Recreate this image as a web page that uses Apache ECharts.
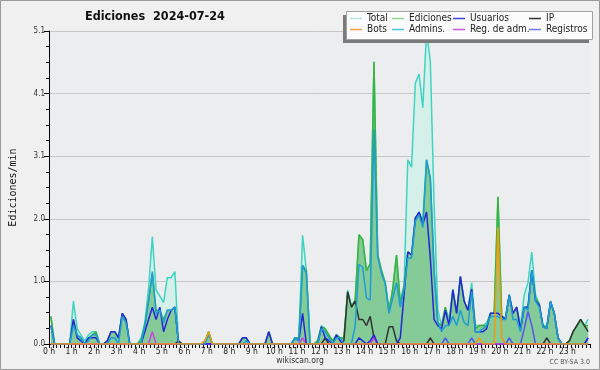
<!DOCTYPE html>
<html><head><meta charset="utf-8">
<script src="https://cdn.jsdelivr.net/npm/echarts@6/dist/echarts.min.js"></script>
<style>html,body{margin:0;padding:0;background:#f0f0f0}#c{width:600px;height:370px}</style>
</head><body><div id="c"></div>
<script>
// 10-minute bins, 144 per day (values in edits/min)
var total = [
0.45,0,0,0,0,0, 0.7,0.25,0.15,0.05,0.15,0.2,
0.2,0,0,0.05,0.2,0.2, 0.1,0.5,0.4,0,0,0,
0.1,0.35,0.9,1.75,0.88,0.78, 0.68,1.08,1.08,1.18,0,0,
0,0,0,0,0,0.05, 0.2,0,0,0,0,0,
0,0,0,0.1,0.1,0, 0,0,0,0,0.2,0,
0,0,0,0,0,0.1, 0.1,1.77,1.2,0,0,0.05,
0.3,0.25,0.15,0.05,0.15,0.1, 0.1,0.88,0.62,0.72,1.78,1.7,
1.2,1.3,4.6,1.45,1.2,1.0, 0.55,0.9,1.45,0.7,0.95,3.0,
2.88,4.25,4.4,3.85,5.1,4.6, 2.3,0.55,0.3,0.6,0.4,0.9,
0.5,1.1,0.7,0.55,1.0,0.3, 0.3,0.3,0.35,0.5,0.5,2.4,
0.45,0.42,0.8,0.5,0.6,0.3, 0.8,1.0,1.5,0.8,0.65,0.3,
0.3,0.7,0.5,0.1,0,0, 0.05,0.2,0.3,0.4,0.3,0.4
];
var ediciones = [
0.45,0,0,0,0,0, 0.4,0.15,0.1,0,0.1,0.15,
0.2,0,0,0.05,0.2,0.2, 0.1,0.5,0.4,0,0,0,
0.05,0.3,0.7,1.15,0.55,0.55, 0.4,0.55,0.55,0.6,0,0,
0,0,0,0,0,0.05, 0.2,0,0,0,0,0,
0,0,0,0.1,0.1,0, 0,0,0,0,0.2,0,
0,0,0,0,0,0.1, 0.1,1.28,1.2,0,0,0.05,
0.28,0.25,0.15,0.05,0.15,0.1, 0.1,0.85,0.6,0.72,1.78,1.7,
1.2,1.3,4.6,1.45,1.2,1.0, 0.55,0.9,1.45,0.65,0.95,1.5,
1.45,2.05,2.15,2.0,3.0,2.7, 1.2,0.35,0.3,0.6,0.3,0.88,
0.5,1.1,0.7,0.55,0.9,0.25, 0.3,0.3,0.3,0.5,0.5,2.4,
0.45,0.42,0.8,0.5,0.6,0.25, 0.6,0.6,1.2,0.75,0.64,0.28,
0.28,0.69,0.5,0.1,0,0, 0.05,0.2,0.3,0.4,0.3,0.3
];
var usuarios = [
0.3,0,0,0,0,0, 0.4,0.1,0.05,0,0.1,0.1,
0.1,0,0,0.05,0.2,0.2, 0.1,0.5,0.4,0,0,0,
0,0.2,0.4,0.6,0.4,0.6, 0.2,0.4,0.55,0.6,0,0,
0,0,0,0,0,0, 0,0,0,0,0,0,
0,0,0,0.1,0.1,0, 0,0,0,0,0.2,0,
0,0,0,0,0,0.1, 0.05,0.5,0,0,0,0,
0.28,0.1,0.05,0,0.15,0.05, 0,0,0,0,0.1,0.05,
0,0.05,0.15,0,0,0, 0,0,0,0.1,0.8,1.5,
1.45,2.05,2.15,1.95,2.15,1.4, 0.4,0.3,0.25,0.55,0.3,0.88,
0.5,1.1,0.7,0.55,0.89,0.2, 0.2,0.2,0.25,0.5,0.5,0.5,
0.45,0.4,0.8,0.5,0.6,0.23, 0.6,0.6,1.2,0.7,0.64,0.28,
0.25,0.69,0.5,0.1,0,0, 0,0,0,0,0,0.1
];
var ip = [
0,0,0,0,0,0, 0,0,0,0,0,0,
0,0,0,0,0,0, 0,0,0,0,0,0,
0,0,0,0,0,0, 0,0,0,0,0.05,0,
0,0,0,0,0,0, 0,0,0,0,0,0,
0,0,0,0,0,0, 0,0,0,0,0,0,
0,0,0,0,0,0, 0,0,0,0,0,0,
0,0.1,0,0,0,0, 0.05,0.85,0.6,0.7,0.4,0.4,
0.3,0.45,0.1,0,0,0, 0.28,0.28,0.05,0,0,0,
0,0,0,0,0,0.1, 0,0,0,0,0,0,
0,0,0,0,0,0, 0,0,0,0,0,0,
0,0,0,0,0,0, 0,0,0,0,0,0,
0.1,0,0,0,0,0, 0.05,0.2,0.3,0.4,0.3,0.2
];
var bots = [
0,0,0,0,0,0, 0,0,0,0,0,0,
0,0,0,0,0,0, 0,0,0,0,0,0,
0,0,0,0,0,0, 0,0,0,0,0,0,
0,0,0,0,0,0.05, 0.2,0,0,0,0,0,
0,0,0,0,0,0, 0,0,0,0,0,0,
0,0,0,0,0,0, 0,0,0,0,0,0,
0,0,0,0,0,0, 0,0,0,0,0,0,
0,0,0,0,0,0, 0,0,0,0,0,0,
0,0,0,0,0,0, 0,0,0,0,0,0,
0,0,0,0,0,0, 0.1,0,0,0,0,1.9,
0.1,0,0,0,0,0, 0,0,0,0,0,0,
0,0,0,0,0,0, 0,0,0,0,0,0
];
var admins = [
0.3,0,0,0,0,0, 0.3,0.15,0.1,0,0.05,0.15,
0.15,0,0,0,0.1,0.1, 0,0.45,0.35,0,0,0,
0,0.3,0.7,1.18,0.5,0.55, 0.35,0.55,0.55,0.6,0,0,
0,0,0,0,0,0, 0.15,0,0,0,0,0,
0,0,0,0,0.05,0, 0,0,0,0,0,0,
0,0,0,0,0,0.1, 0.05,1.28,1.15,0,0,0,
0.25,0.2,0.1,0,0.1,0.1, 0,0,0,0.3,1.3,1.25,
0.75,0.72,3.5,1.42,1.15,0.98, 0.5,0.75,1.0,0.6,0.9,1.4,
1.4,2.0,2.1,1.9,3.0,2.7, 1.2,0.35,0.2,0.3,0.3,0.45,
0.3,0.55,0.35,0.3,0.85,0.2, 0.2,0.25,0.3,0.45,0.45,0.45,
0.4,0.4,0.8,0.4,0.4,0.2, 0.6,0.55,1.2,0.7,0.6,0.28,
0.25,0.69,0.5,0.1,0,0, 0,0,0,0,0,0
];
var regAdm = new Array(144).fill(0);
regAdm[27] = 0.2; regAdm[67] = 0.1; regAdm[86] = 0.1;
var registros = new Array(144).fill(0);
registros[105] = 0.1; registros[112] = 0.1; registros[122] = 0.1;
registros[126] = 0.25; registros[127] = 0.53; registros[128] = 0.3; registros[143] = 0.1;

var hourLabels = []; for (var h = 0; h < 24; h++) hourLabels.push(h + ' h');

function pts(arr){ return arr.map(function(v,i){ return [(i+0.5)/6, v]; }); }
var COND = "'DejaVu Sans Condensed','DejaVu Sans',sans-serif";

function line(name, arr, color, z, area){
  var s = {name:name, type:'line', data:pts(arr), showSymbol:false, symbol:'none',
    lineStyle:{color:color, width:1.5}, itemStyle:{color:color}, z:z, animation:false};
  if (area) s.areaStyle = {color:area, opacity:1};
  return s;
}

var chart = echarts.init(document.getElementById('c'), null, {renderer:'canvas'});
var legendCommon = {orient:'vertical', top:13, itemGap:0, padding:0, icon:'rect',
  itemWidth:12, itemHeight:1.5, selectedMode:false, z:200,
  textStyle:{fontFamily:COND, fontSize:10, color:'#222', lineHeight:11}};
function lg(left, items){ return Object.assign({}, legendCommon, {left:left, data:items}); }

chart.setOption({
  backgroundColor:'#f0f0f0',
  animation:false,
  title:{text:'Ediciones  2024-07-24', left:85, top:10, padding:0,
    textStyle:{fontFamily:COND, fontSize:12.5, fontWeight:'bold', color:'#111'}},
  grid:{left:46, right:10, top:31, bottom:26, show:true, backgroundColor:'#ecedef', borderWidth:0},
  legend:[
    lg(350, [{name:'Total', itemStyle:{color:'#b4e6e0'}}, {name:'Bots', itemStyle:{color:'#f0a040'}}]),
    lg(392, [{name:'Ediciones', itemStyle:{color:'#90d890'}}, {name:'Admins.', itemStyle:{color:'#44ccdd'}}]),
    lg(453, [{name:'Usuarios', itemStyle:{color:'#4444dd'}}, {name:'Reg. de adm.', itemStyle:{color:'#cc55dd'}}]),
    lg(529, [{name:'IP', itemStyle:{color:'#333333'}}, {name:'Registros', itemStyle:{color:'#7777ee'}}])
  ],
  xAxis:{type:'value', min:0, max:24, interval:1,
    axisLine:{lineStyle:{color:'#000', width:1}},
    axisTick:{length:4, lineStyle:{color:'#000'}},
    minorTick:{show:true, splitNumber:6, length:4, lineStyle:{color:'#000'}},
    splitLine:{show:false},
    axisLabel:{fontFamily:COND, fontSize:8.5, color:'#222', margin:3,
      formatter:function(v){ return v < 24 ? hourLabels[v] : ''; }}},
  yAxis:{type:'value', min:0, max:5.1, interval:1.02,
    name:'Ediciones/min', nameLocation:'middle', nameGap:31, nameRotate:90,
    nameTextStyle:{fontFamily:"'DejaVu Sans Mono',monospace", fontSize:10, color:'#111'},
    axisLine:{show:true, lineStyle:{color:'#000', width:1}},
    axisTick:{show:true, length:5, lineStyle:{color:'#000'}},
    minorTick:{show:true, splitNumber:4, length:3, lineStyle:{color:'#000'}},
    splitLine:{lineStyle:{color:'#c6c6c6', width:1}},
    axisLabel:{fontFamily:COND, fontSize:8, color:'#333', margin:4,
      formatter:function(v){ return v.toFixed(1); }}},
  series:[
    line('Total', total, '#3fd3c3', 2, '#d5f0e9'),
    line('Ediciones', ediciones, '#3cb43c', 3, 'rgba(60,170,80,0.53)'),
    line('IP', ip, '#333333', 4),
    line('Registros', registros, '#5555ee', 5),
    line('Reg. de adm.', regAdm, '#cc44dd', 6),
    line('Usuarios', usuarios, '#2626d8', 7),
    line('Admins.', admins, '#1e9cd8', 8),
    line('Bots', bots, '#f59a10', 9)
  ],
  graphic:[
    {type:'rect', z:0, silent:true, shape:{x:0.5, y:0.5, width:599, height:369}, style:{fill:null, stroke:'#9a9a9a', lineWidth:1}},
    {type:'rect', z:100, silent:true, shape:{x:343, y:15, width:246, height:28}, style:{fill:'#7a7a7a'}},
    {type:'rect', z:101, silent:true, shape:{x:346.5, y:11.5, width:246, height:28}, style:{fill:'#fbfbfb', stroke:'#a0a0a0', lineWidth:1}},
    {type:'text', z:100, silent:true, style:{text:'wikiscan.org', x:300, y:361, align:'center', verticalAlign:'middle', font:"8.5px 'DejaVu Sans Condensed','DejaVu Sans',sans-serif", fill:'#333'}},
    {type:'text', z:100, silent:true, style:{text:'CC BY-SA 3.0', x:590, y:362, align:'right', verticalAlign:'middle', font:"7px 'DejaVu Sans Condensed','DejaVu Sans',sans-serif", fill:'#555'}}
  ]
});
</script></body></html>
